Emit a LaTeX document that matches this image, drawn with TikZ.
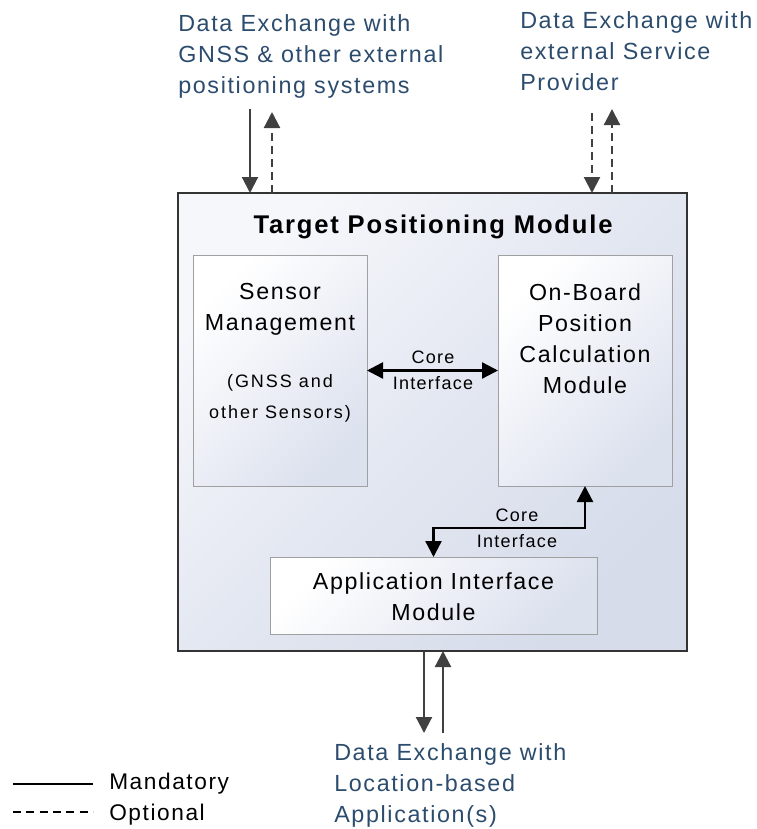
\documentclass[tikz,border=0pt]{standalone}
\usepackage{fontspec}
\setmainfont[LetterSpace=7]{Liberation Sans}
\newfontfamily\smallfont[LetterSpace=11]{Liberation Sans}
\usetikzlibrary{arrows.meta}
\definecolor{lbl}{HTML}{2C4C6E}
\definecolor{arr}{HTML}{404040}
\definecolor{outtop}{HTML}{F6F7FB}
\definecolor{outmid}{HTML}{E3E7F1}
\definecolor{outbot}{HTML}{D6DCEA}
\definecolor{inbot}{HTML}{DCE1EE}
\definecolor{inborder}{HTML}{A0A0A0}
\begin{document}
\begin{tikzpicture}[x=0.75pt,y=-0.75pt,
  outerbox/.style={draw=black!80, line width=1.5pt, inner sep=0pt, outer sep=0pt,
    top color=outtop, bottom color=outbot, middle color=outmid, shading angle=45},
  innerbox/.style={draw=inborder, line width=0.75pt, inner sep=0pt, outer sep=0pt,
    top color=white, bottom color=inbot, shading angle=45},
  boxtext/.style={align=center, inner sep=0pt, font=\fontsize{17.4}{23.25}\selectfont},
  smalltext/.style={align=center, inner sep=0pt, font=\smallfont\fontsize{13.5}{23.25}\selectfont},
  coretext/.style={align=center, inner sep=0pt, font=\fontsize{13.5}{19.5}\selectfont},
  exttext/.style={align=left, inner sep=0pt, text=lbl, font=\fontsize{17.5}{23.25}\selectfont},
  extarrow/.style={draw=arr, line width=1.6pt, -{Triangle[length=12pt,width=12pt]}},
  optarrow/.style={extarrow, dash pattern=on 6pt off 3.75pt},
  corearrow/.style={draw=black, line width=1.8pt, {Triangle[length=12pt,width=12pt]}-{Triangle[length=12pt,width=12pt]}},
]
\useasboundingbox (0,0) rectangle (757,829);

% boxes
\node[outerbox, minimum width=381.75pt, minimum height=343.5pt] (tpm) at (432.5,422) {};
\node[innerbox, minimum width=130.5pt, minimum height=173.25pt] (sm) at (280,370.5) {};
\node[innerbox, minimum width=130.5pt, minimum height=173.25pt] (ob) at (585,370.5) {};
\node[innerbox, minimum width=245.25pt, minimum height=57.75pt] (aim) at (433.5,595.5) {};

% texts in boxes (base anchor = last line)
\node[anchor=base, inner sep=0pt, font=\bfseries\fontsize{19.2}{22}\selectfont] (title) at (433,233) {Target Positioning Module};
\node[boxtext, anchor=base] (smt) at (280,330) {Sensor\\Management};
\node[smalltext, anchor=base] (sms) at (280,418) {(GNSS and\\other Sensors)};
\node[boxtext, anchor=base] (obt) at (585,393) {On-Board\\Position\\Calculation\\Module};
\node[boxtext, anchor=base] (aimt) at (433.5,620) {Application Interface\\Module};

% core interfaces
\draw[corearrow] (sm.east) -- (ob.west);
\node[coretext, anchor=base] (ci1) at (433,389) {Core\\Interface};
\coordinate (bend) at (0,528);
\draw[corearrow] (aim.north) -- (aim.north |- bend) -| (ob.south);
\node[coretext, anchor=base] (ci2) at (517,547) {Core\\Interface};

% external labels
\node[exttext, anchor=base west] (gnss) at (178,93) {Data Exchange with\\GNSS \& other external\\positioning systems};
\node[exttext, anchor=base west] (esp) at (520,90) {Data Exchange with\\external Service\\Provider};
\node[exttext, anchor=base west] (lba) at (334,822) {Data Exchange with\\Location-based\\Application(s)};

% external arrows
\coordinate (g1) at (250,109);
\coordinate (g2) at (272,112);
\coordinate (e1) at (592,113);
\coordinate (e2) at (612,109);
\coordinate (l1) at (424,733);
\coordinate (l2) at (443,733);
\draw[extarrow] (g1) -- (g1 |- tpm.north);
\draw[optarrow] (g2 |- tpm.north) -- (g2);
\draw[optarrow] (e1) -- (e1 |- tpm.north);
\draw[optarrow] (e2 |- tpm.north) -- (e2);
\draw[extarrow] (l1 |- tpm.south) -- (l1);
\draw[extarrow] (l2) -- (l2 |- tpm.south);

% legend
\coordinate (m1) at (13,784);
\coordinate (m2) at (93,784);
\coordinate (o1) at (13,812);
\coordinate (o2) at (93,812);
\draw[black, line width=1.3pt] (m1) -- (m2);
\draw[black, line width=1.3pt, dash pattern=on 6pt off 4pt] (o1) -- (o2);
\node[anchor=base west, inner sep=0pt, font=\fontsize{17}{20}\selectfont] (mand) at (109,789) {Mandatory};
\node[anchor=base west, inner sep=0pt, font=\fontsize{17}{20}\selectfont] (opt) at (109,820) {Optional};
\end{tikzpicture}
\end{document}
